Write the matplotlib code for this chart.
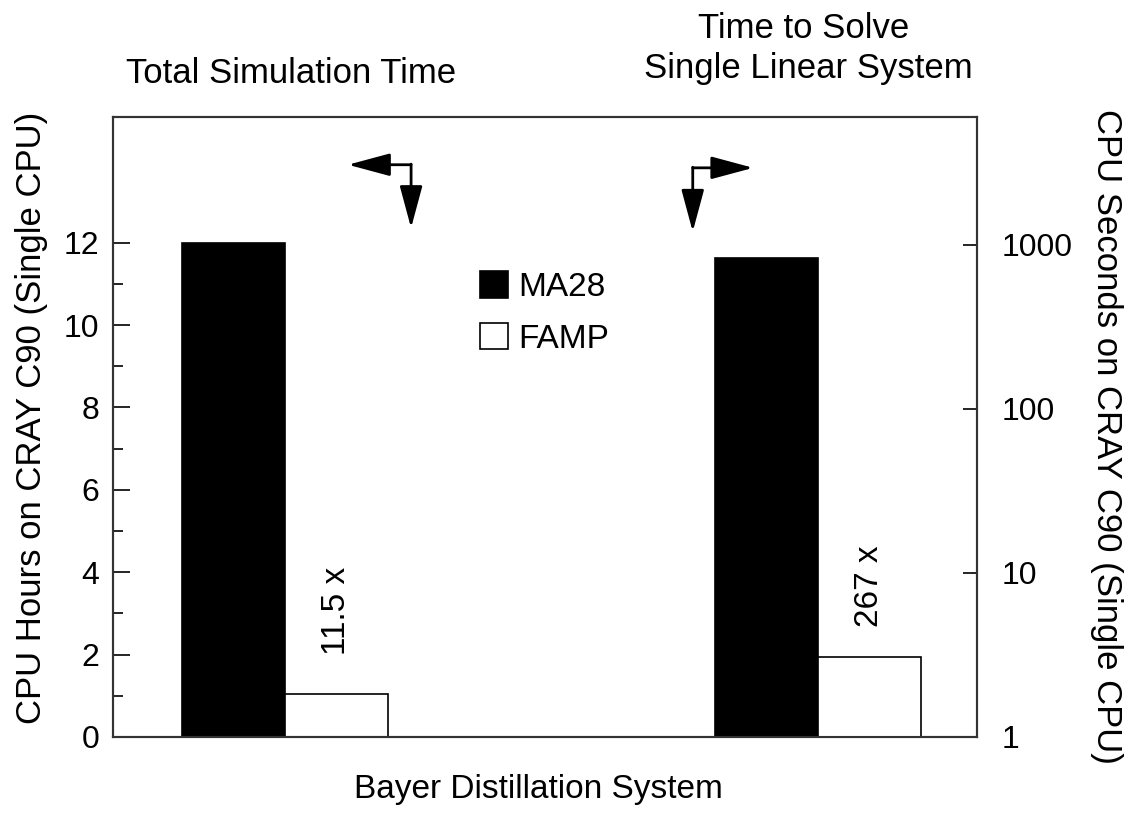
import matplotlib.pyplot as plt
import numpy as np

plt.rcParams['font.family'] = ['Liberation Sans', 'DejaVu Sans']

# data
methods = ['MA28', 'FAMP']
sim_hours = [12.0, 1.04]        # total simulation time, CPU hours (left axis)
solve_seconds = [825.0, 3.09]   # single linear solve, CPU seconds (right axis, log)
speedups = ['11.5 x', '267 x']
left_ticks = [0, 2, 4, 6, 8, 10, 12]
right_ticks = [1, 10, 100, 1000]

W, H = 1138, 814
fig = plt.figure(figsize=(W / 100, H / 100), dpi=100)
ax = fig.add_axes([113 / W, (H - 737) / H, (977 - 113) / W, (737 - 117) / H])
ax2 = ax.twinx()

w = 0.193
colors = ['black', 'white']
x_left = np.array([-w / 2, w / 2])
x_right = 1 + x_left

bars = []
for i in range(2):
    b = ax.bar(x_left[i], sim_hours[i], w, color=colors[i], edgecolor='black',
               linewidth=1.2, label=methods[i])
    bars.append(b)
    ax2.bar(x_right[i], solve_seconds[i] - 1, w, bottom=1, color=colors[i],
            edgecolor='black', linewidth=1.2)

ax.set_xlim(-0.323, 1.298)
ax.set_ylim(0, 15.05)
ax.set_yticks(left_ticks)
ax.set_yticks(range(1, 12, 2), minor=True)
ax.set_xticks([])
ax.tick_params(axis='y', which='major', direction='in', length=12, width=1.2,
               labelsize=23, pad=10)
ax.tick_params(axis='y', which='minor', direction='in', length=7, width=1.2)

ax2.set_yscale('log')
ax2.set_ylim(1, 6000)
ax2.set_yticks(right_ticks)
ax2.set_yticklabels([str(t) for t in right_ticks])
ax2.yaxis.set_minor_locator(plt.NullLocator())
ax2.tick_params(axis='y', which='major', direction='in', length=10, width=1.2,
                labelsize=23, pad=18)

for a in (ax, ax2):
    for s in a.spines.values():
        s.set_color('#333333')
        s.set_linewidth(1.5)

ax.set_ylabel('CPU Hours on CRAY C90 (Single CPU)', fontsize=25)
ax.yaxis.set_label_coords(-0.075, 0.515)
ax2.set_ylabel('CPU Seconds on CRAY C90 (Single CPU)', fontsize=25,
               rotation=-90, va='bottom')
ax2.yaxis.set_label_coords(1.131, 0.484)

# speed-up labels above the FAMP bars
ax.annotate(speedups[0], (x_left[1], sim_hours[1]), xytext=(0, 28),
            textcoords='offset points', rotation=90, ha='center', va='bottom',
            fontsize=24)
ax2.annotate(speedups[1], (x_right[1], solve_seconds[1]), xytext=(0, 21),
             textcoords='offset points', rotation=90, ha='center', va='bottom',
             fontsize=24)

ax2.legend(handles=bars, labels=methods, frameon=False, fontsize=24,
           loc='upper left', bbox_to_anchor=(0.39, 0.80),
           handlelength=0.85, handleheight=0.85, handletextpad=0.3,
           labelspacing=0.6)

# axis-direction arrows
arrow = dict(arrowstyle='-|>,head_length=1.3,head_width=0.35',
             mutation_scale=20, lw=2, color='black', shrinkA=0, shrinkB=0)
ax.annotate('', xy=(0.272, 0.923), xytext=(0.345, 0.923),
            xycoords='axes fraction', arrowprops=arrow)
ax.annotate('', xy=(0.345, 0.821), xytext=(0.345, 0.924),
            xycoords='axes fraction', arrowprops=arrow)
ax.annotate('', xy=(0.741, 0.918), xytext=(0.671, 0.918),
            xycoords='axes fraction', arrowprops=arrow)
ax.annotate('', xy=(0.671, 0.815), xytext=(0.671, 0.919),
            xycoords='axes fraction', arrowprops=arrow)

fig.text(291 / W, 1 - 83 / H, 'Total Simulation Time', fontsize=25,
         ha='center', va='baseline')
fig.text(804 / W, 1 - 38 / H, 'Time to Solve', fontsize=25,
         ha='center', va='baseline')
fig.text(808 / W, 1 - 78 / H, 'Single Linear System', fontsize=25,
         ha='center', va='baseline')
fig.text(538 / W, 1 - 798 / H, 'Bayer Distillation System', fontsize=24,
         ha='center', va='baseline')

fig.savefig('out.png', dpi=100)
